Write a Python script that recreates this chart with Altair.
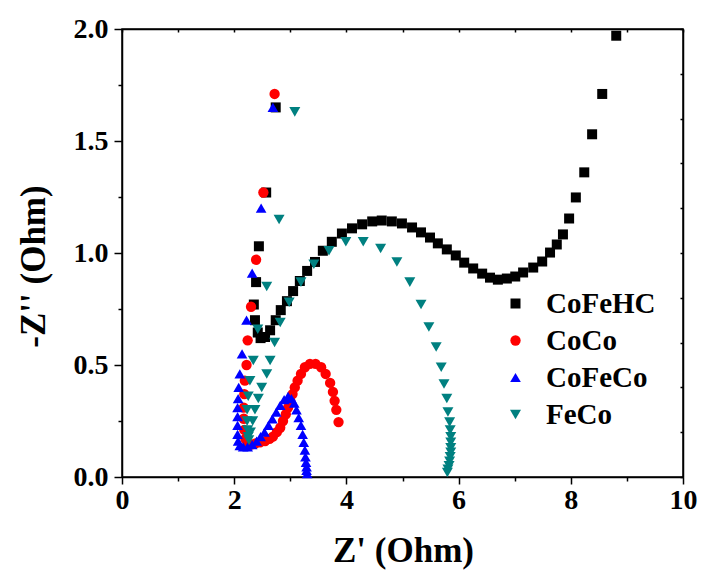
import altair as alt
import pandas as pd

FONT = "'Liberation Serif', 'Times New Roman', Times, serif"

SERIES = ["CoFeHC", "CoCo", "CoFeCo", "FeCo"]
COLORS = ["#000000", "#ff0000", "#0000ff", "#008080"]
SHAPES = ["square", "circle", "triangle-up", "triangle-down"]
SIZES = [100, 121, 165, 165]

# Nyquist data: Z' (real part) and -Z'' (imaginary part), in Ohm
cofehc_x = [2.74, 2.57, 2.44, 2.39, 2.35, 2.37, 2.42, 2.47, 2.55, 2.64, 2.74,
            2.83, 2.94, 3.05, 3.17, 3.30, 3.44, 3.58, 3.74, 3.92, 4.10, 4.28,
            4.46, 4.63, 4.81, 4.99, 5.17, 5.33, 5.49, 5.63, 5.79, 5.95, 6.10,
            6.26, 6.42, 6.56, 6.70, 6.86, 7.01, 7.15, 7.33, 7.49, 7.63, 7.75,
            7.86, 7.97, 8.09, 8.24, 8.38, 8.56, 8.81]
cofehc_y = [1.65, 1.27, 1.03, 0.87, 0.77, 0.70, 0.645, 0.62, 0.625, 0.655, 0.70,
            0.745, 0.785, 0.83, 0.875, 0.92, 0.96, 1.01, 1.05, 1.087, 1.11, 1.128,
            1.141, 1.145, 1.141, 1.132, 1.114, 1.092, 1.069, 1.043, 1.016, 0.989, 0.957,
            0.931, 0.908, 0.890, 0.881, 0.886, 0.895, 0.913, 0.935, 0.962, 1.002, 1.038,
            1.083, 1.154, 1.248, 1.36, 1.53, 1.71, 1.97]

coco_x = [2.72, 2.52, 2.39, 2.30, 2.24, 2.22, 2.19, 2.18, 2.17, 2.17, 2.18,
          2.20, 2.24, 2.30, 2.38, 2.46, 2.55, 2.63, 2.69, 2.76, 2.82, 2.87,
          2.92, 2.96, 3.00, 3.04, 3.08, 3.13, 3.19, 3.26, 3.35, 3.45, 3.55,
          3.63, 3.71, 3.76, 3.79, 3.82, 3.86]
coco_y = [1.71, 1.27, 0.97, 0.76, 0.61, 0.50, 0.43, 0.37, 0.31, 0.26, 0.21,
          0.17, 0.15, 0.145, 0.15, 0.155, 0.16, 0.17, 0.18, 0.20, 0.22, 0.25,
          0.28, 0.31, 0.34, 0.37, 0.40, 0.43, 0.46, 0.49, 0.505, 0.505, 0.49,
          0.46, 0.42, 0.38, 0.34, 0.30, 0.245]

cofeco_x = [2.69, 2.48, 2.32, 2.22, 2.14, 2.10, 2.08, 2.07, 2.06, 2.06, 2.06,
            2.06, 2.07, 2.10, 2.16, 2.24, 2.32, 2.40, 2.47, 2.54, 2.61, 2.68,
            2.75, 2.82, 2.89, 2.96, 3.02, 3.07, 3.11, 3.15, 3.19, 3.22, 3.24,
            3.26, 3.27, 3.28, 3.29, 3.29, 3.30]
cofeco_y = [1.65, 1.20, 0.91, 0.70, 0.55, 0.46, 0.40, 0.35, 0.31, 0.27, 0.23,
            0.19, 0.16, 0.14, 0.135, 0.135, 0.145, 0.16, 0.18, 0.20, 0.23, 0.26,
            0.29, 0.32, 0.345, 0.36, 0.35, 0.33, 0.30, 0.265, 0.23, 0.19, 0.155,
            0.12, 0.09, 0.065, 0.045, 0.03, 0.015]

feco_x = [3.08, 2.80, 2.58, 2.42, 2.34, 2.28, 2.25, 2.23, 2.23, 2.24, 2.25,
          2.26, 2.29, 2.33, 2.37, 2.43, 2.49, 2.58, 2.64, 2.72, 2.82, 2.98,
          3.19, 3.42, 3.69, 3.99, 4.30, 4.61, 4.90, 5.13, 5.33, 5.47, 5.60,
          5.69, 5.74, 5.79, 5.81, 5.84, 5.85, 5.86, 5.86, 5.86, 5.86, 5.85,
          5.84, 5.83, 5.81, 5.80]
feco_y = [1.63, 1.15, 0.85, 0.66, 0.52, 0.43, 0.36, 0.30, 0.25, 0.21, 0.18,
          0.165, 0.20, 0.25, 0.30, 0.35, 0.40, 0.46, 0.52, 0.60, 0.69, 0.78,
          0.87, 0.95, 1.01, 1.05, 1.05, 1.02, 0.96, 0.87, 0.77, 0.67, 0.58,
          0.49, 0.415, 0.35, 0.29, 0.245, 0.21, 0.18, 0.155, 0.13, 0.11, 0.09,
          0.07, 0.05, 0.035, 0.02]

x_ticks = list(range(0, 11))
y_ticks = [0, 0.25, 0.5, 0.75, 1.0, 1.25, 1.5, 1.75, 2.0]
y_ticks_right = [0, 0.2, 0.4, 0.6, 0.8, 1.0, 1.2, 1.4, 1.6, 1.8, 2.0]

rows = []
for name, xs, ys in [("CoFeHC", cofehc_x, cofehc_y), ("CoCo", coco_x, coco_y),
                     ("CoFeCo", cofeco_x, cofeco_y), ("FeCo", feco_x, feco_y)]:
    for a, b in zip(xs, ys):
        rows.append({"series": name, "zre": a, "zim": b})
df = pd.DataFrame(rows)

x_scale = alt.Scale(domain=[0, 10], nice=False, zero=False)
y_scale = alt.Scale(domain=[0, 2], nice=False, zero=False)

legend = alt.Legend(
    title=None, orient="none", legendX=379, legendY=260,
    labelFont=FONT, labelFontSize=29, labelFontWeight="bold", labelColor="black",
    symbolSize=80, labelOffset=16, rowPadding=7, padding=0,
    symbolStrokeWidth=0,
)

points = alt.Chart(df).mark_point(filled=True, opacity=1, strokeWidth=0).encode(
    x=alt.X("zre:Q", scale=x_scale, axis=alt.Axis(
        title="Z' (Ohm)", values=x_ticks, orient="bottom",
        labelExpr="datum.value % 2 === 0 ? datum.label : ''",
        tickSize={"condition": {"test": "datum.value % 2 === 0", "value": 7}, "value": 4},
        labelPadding=2, labelFlush=False, labelOverlap=False,
        titleX=281, titleY=84, titleBaseline="alphabetic", titleAlign="center",
    )),
    y=alt.Y("zim:Q", scale=y_scale, axis=alt.Axis(
        title="-Z'' (Ohm)", values=y_ticks, orient="left",
        labelExpr="datum.value % 0.5 === 0 ? format(datum.value, '.1f') : ''",
        tickSize={"condition": {"test": "datum.value % 0.5 === 0", "value": 8}, "value": 4},
        labelPadding=6, labelFlush=False, labelOverlap=False,
        titleX=-89, titleY=237, titleBaseline="middle", titleAlign="center", titleAngle=270,
    )),
    color=alt.Color("series:N", scale=alt.Scale(domain=SERIES, range=COLORS), legend=legend),
    shape=alt.Shape("series:N", scale=alt.Scale(domain=SERIES, range=SHAPES), legend=legend),
    size=alt.Size("series:N", scale=alt.Scale(domain=SERIES, range=SIZES), legend=None),
)

# mirrored top and right axes with short inward ticks
frame = alt.Chart(df).mark_point(opacity=0).encode(
    x=alt.X("zre:Q", scale=x_scale, axis=alt.Axis(
        orient="top", values=x_ticks, labels=False, title=None,
        tickSize={"expr": "-3"})),
    y=alt.Y("zim:Q", scale=y_scale, axis=alt.Axis(
        orient="right", values=y_ticks_right, labels=False, title=None,
        tickSize={"expr": "-3"})),
)

chart = alt.layer(points, frame).resolve_axis(
    x="independent", y="independent"
).properties(
    width=561, height=448,
    autosize=alt.AutoSizeParams(type="none"),
    padding={"left": 122, "top": 29, "right": 20, "bottom": 95},
    background="white",
).configure_view(
    stroke="black", strokeWidth=1.5
).configure_axis(
    grid=False, domainColor="black", domainWidth=1.5,
    tickColor="black", tickWidth=1.5,
    labelFont=FONT, labelFontSize=28, labelFontWeight="bold", labelColor="black",
    titleFont=FONT, titleFontSize=35, titleFontWeight="bold", titleColor="black",
)

chart.save("out.html", embed_options={"renderer": "svg", "actions": False})
